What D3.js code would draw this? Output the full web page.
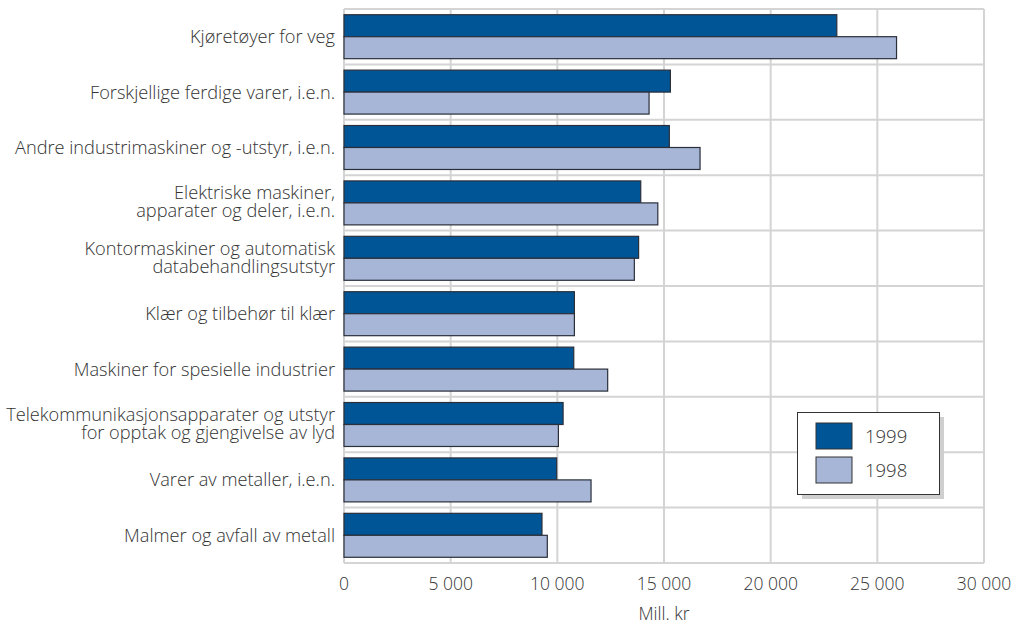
<!DOCTYPE html>
<html><head><meta charset="utf-8">
<script src="https://cdn.jsdelivr.net/npm/d3@7"></script>
<style>body{margin:0;background:#fff}svg{display:block}text{font-family:"Open Sans",sans-serif;fill:#333;font-weight:300}</style>
</head><body>
<svg id="c" width="1024" height="625"></svg>
<script>
const categories = [
  ["Kjøretøyer for veg"],
  ["Forskjellige ferdige varer, i.e.n."],
  ["Andre industrimaskiner og -utstyr, i.e.n."],
  ["Elektriske maskiner,", "apparater og deler, i.e.n."],
  ["Kontormaskiner og automatisk", "databehandlingsutstyr"],
  ["Klær og tilbehør til klær"],
  ["Maskiner for spesielle industrier"],
  ["Telekommunikasjonsapparater og utstyr", "for opptak og gjengivelse av lyd"],
  ["Varer av metaller, i.e.n."],
  ["Malmer og avfall av metall"]
];
const values1999 = [23100, 15300, 15250, 13910, 13810, 10800, 10770, 10270, 9970, 9280];
const values1998 = [25900, 14300, 16690, 14710, 13610, 10800, 12360, 10050, 11580, 9530];
const seriesNames = ["1999", "1998"];
const xTicks = [0, 5000, 10000, 15000, 20000, 25000, 30000];
const tickLabels = ["0", "5 000", "10 000", "15 000", "20 000", "25 000", "30 000"];
const axisTitle = "Mill. kr";
const colors = ["#005596", "#a7b6d7"];

const svg = d3.select("#c");
const L = 344, R = 984, T = 9, B = 563;
const x = d3.scaleLinear().domain([0, 30000]).range([L, R]);
const idx = categories.map((d, i) => i);
const y = d3.scaleBand().domain(idx).range([T, B]).padding(0);
const inner = d3.scaleBand().domain(seriesNames).range([0, y.bandwidth()]).paddingOuter(0.26).paddingInner(0);

// grid
const grid = svg.append("g").attr("stroke", "#d4d4d4").attr("stroke-width", 2);
xTicks.forEach(t => grid.append("line").attr("x1", x(t)).attr("x2", x(t)).attr("y1", T).attr("y2", B));
idx.concat([idx.length]).forEach(i => {
  const yy = i < idx.length ? y(i) : B;
  grid.append("line").attr("x1", L).attr("x2", R).attr("y1", yy).attr("y2", yy);
});

// bars
const series = [values1999, values1998];
series.forEach((vals, s) => {
  svg.append("g").selectAll("rect").data(vals).join("rect")
    .attr("x", x(0))
    .attr("y", (d, i) => y(i) + inner(seriesNames[s]))
    .attr("width", d => x(d) - x(0))
    .attr("height", inner.bandwidth())
    .attr("fill", colors[s])
    .attr("stroke", "#2a2f3a").attr("stroke-width", 1.2);
});

// category labels
const lab = svg.append("g");
categories.forEach((lines, i) => {
  const cy = y(i) + y.bandwidth() / 2;
  const lh = 18;
  const off = lines.length > 1 ? 5.2 : 6.5;
  lines.forEach((ln, j) => {
    lab.append("text").attr("text-anchor", "end").attr("font-size", 18.2)
      .attr("x", 335)
      .attr("y", cy + (j - (lines.length - 1) / 2) * lh + off).text(ln);
  });
});

// x tick labels
xTicks.forEach((t, i) => {
  svg.append("text").attr("x", x(t)).attr("y", 590).attr("text-anchor", "middle")
    .attr("font-size", 17.5).text(tickLabels[i]);
});
svg.append("text").attr("x", (L + R) / 2).attr("y", 620).attr("text-anchor", "middle")
  .attr("font-size", 17.5).text(axisTitle);

// legend
const lg = svg.append("g");
lg.append("rect").attr("x", 802).attr("y", 417).attr("width", 142).attr("height", 82).attr("fill", "#cfcfcf");
lg.append("rect").attr("x", 797.5).attr("y", 412.5).attr("width", 142).attr("height", 82)
  .attr("fill", "#fff").attr("stroke", "#333").attr("stroke-width", 1);
seriesNames.forEach((n, s) => {
  lg.append("rect").attr("x", 816).attr("y", 423 + s * 34).attr("width", 36).attr("height", 26)
    .attr("fill", colors[s]).attr("stroke", "#333").attr("stroke-width", 1);
  lg.append("text").attr("x", 865).attr("y", 442.5 + s * 34).attr("font-size", 18.5).text(n);
});
</script>
</body></html>
